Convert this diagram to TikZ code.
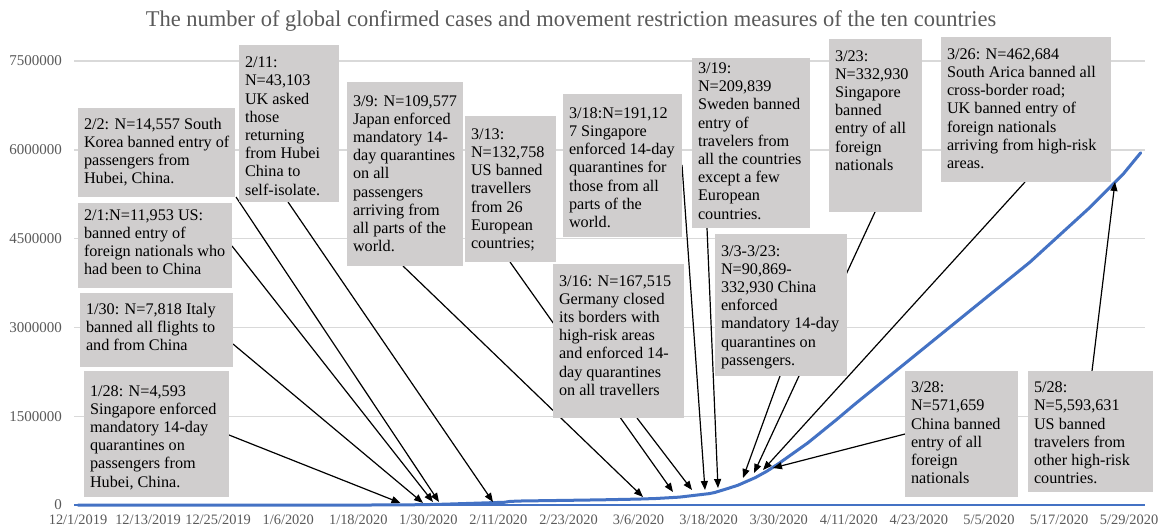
\documentclass[tikz,border=0pt]{standalone}
\usepackage{fontspec}
\setmainfont{Liberation Serif}
\usetikzlibrary{arrows.meta,calc}
\definecolor{boxgray}{RGB}{208,206,206}
\definecolor{labgray}{RGB}{89,89,89}
\definecolor{gridgray}{RGB}{217,217,217}
\definecolor{serieblue}{RGB}{68,114,196}
\tikzset{
  cbox/.style={fill=boxgray, draw=none, anchor=north west, inner sep=0pt, outer sep=0pt},
  ctext/.style={anchor=north west, inner sep=0pt, outer sep=0pt, align=left, text=black,
    font=\fontsize{16.2}{18.2}\selectfont},
  arr/.style={draw=black, line width=1.2pt, -{Triangle[length=9pt,width=7pt]}},
  gridln/.style={draw=gridgray, line width=1.4pt},
  axisln/.style={draw=serieblue, line width=2.6pt},
  dataln/.style={draw=serieblue, line width=3pt, line join=round, line cap=round},
  ylab/.style={anchor=east, inner sep=0pt, text=labgray, font=\fontsize{15}{17}\selectfont},
  xlab/.style={anchor=base, inner sep=0pt, text=labgray, font=\fontsize{14.4}{17}\selectfont},
  ttl/.style={anchor=base, inner sep=0pt, text=labgray, font=\fontsize{22.5}{26}\selectfont}
}
\newcommand\callout[7]{%
  \node[cbox, minimum width={#4-#2}, minimum height={#5-#3}] (#1) at (#2,#3) {};
  \node[ctext] (#1t) at ({#2+6},{#6-12.74}) {\strut #7};
}
\begin{document}
\begin{tikzpicture}[x=1pt, y=-1pt]
\useasboundingbox (0,0) rectangle (1161,527);
\fill[white] (0,0) rectangle (1161,527);

% title
\node[ttl] (title) at (571,26.7) {The number of global confirmed cases and movement restriction measures of the ten countries};

% grid and y labels
\foreach \v/\lab/\n in {61/7500000/a, 149.8/6000000/b, 238.6/4500000/c, 327.4/3000000/d, 416.2/1500000/e}{
  \draw[gridln] (74,\v) -- (1145,\v);
  \node[ylab] (y\n) at (62,\v) {\lab};
}
\node[ylab] (yz) at (62,505) {0};
\draw[axisln] (74,505) -- (1145,505);

% x labels
\foreach \lab [count=\k from 0] in {12/1/2019,12/13/2019,12/25/2019,1/6/2020,1/18/2020,1/30/2020,2/11/2020,2/23/2020,3/6/2020,3/18/2020,3/30/2020,4/11/2020,4/23/2020,5/5/2020,5/17/2020,5/29/2020}{
  \node[xlab] (x\k) at ({78+70.07*\k},524.5) {\lab};
}

% data curve
\begin{scope}[shift={(78,505)}, x=5.839pt, y=59.2pt]
\draw[dataln] plot coordinates {(0,0) (50,0) (55,0.002) (58,0.0046) (60,0.0078) (62,0.012) (63,0.0146) (66,0.024) (72,0.043) (73,0.046) (74,0.061) (76,0.068) (84,0.079) (90,0.088) (96,0.100) (99,0.110) (103,0.133) (106,0.168) (108,0.191) (109,0.210) (111,0.27) (113,0.333) (116,0.463) (118,0.572) (120,0.70) (125,1.05) (130,1.45) (133,1.70) (138,2.10) (143,2.50) (148,2.90) (153,3.30) (158,3.70) (163,4.10) (168,4.55) (173,5.00) (179,5.59) (182,5.95)};
\end{scope}

% arrow endpoints
\coordinate (sA) at (236,197);  \coordinate (tA) at (439,502);
\coordinate (sB) at (232,246);  \coordinate (tB) at (433,502);
\coordinate (sC) at (233,344);  \coordinate (tC) at (423,503);
\coordinate (sD) at (229,435);  \coordinate (tD) at (400.5,503);
\coordinate (sE) at (288,202);  \coordinate (tE) at (493,502);
\coordinate (sF) at (403,266);  \coordinate (tF) at (643,497);
\coordinate (sG) at (510,262);  \coordinate (tG) at (673,492);
\coordinate (sH) at (682,165);  \coordinate (tH) at (705,490);
\coordinate (sI) at (707,228);  \coordinate (tI) at (718,488);
\coordinate (sJ) at (875,212);  \coordinate (tJ) at (754,473);
\coordinate (sK) at (1025,182); \coordinate (tK) at (763,470);
\coordinate (sL) at (637,418);  \coordinate (tL) at (692,490);
\coordinate (sM) at (780,376);  \coordinate (tM) at (743,478);
\coordinate (sN) at (905,434);  \coordinate (tN) at (773,468);
\coordinate (sO) at (1092,371); \coordinate (tO) at (1115,182);
\foreach \c in {A,B,C,D,E,F,G,H,I,J,K,L,M,N,O}{
  \draw[arr] (s\c) -- (t\c);
}

% callout boxes
\callout{bA}{78}{108}{235}{197}{129.3}{2/2: N=14,557 South\\Korea banned entry of\\passengers from\\Hubei, China.}
\callout{bB}{78}{203}{232}{288}{220}{2/1:N=11,953 US:\\banned entry of\\foreign nationals who\\had been to China}
\callout{bC}{80}{293}{233}{367}{314.3}{1/30: N=7,818 Italy\\banned all flights to\\and from China}
\callout{bD}{84}{371}{229}{497}{396}{1/28: N=4,593\\Singapore enforced\\mandatory 14-day\\quarantines on\\passengers from\\Hubei, China.}
\callout{bE}{239}{45}{339}{202}{67.7}{2/11:\\N=43,103\\UK asked\\those\\returning\\from Hubei\\China to\\self-isolate.}
\callout{bF}{347}{82}{463}{266}{106}{3/9: N=109,577\\Japan enforced\\mandatory 14-\\day quarantines\\on all\\passengers\\arriving from\\all parts of the\\world.}
\callout{bG}{465}{116}{556}{262}{139.3}{3/13:\\N=132,758\\US banned\\travellers\\from 26\\European\\countries;}
\callout{bH}{563}{94}{682}{237}{118.3}{3/18:N=191,12\\7 Singapore\\enforced 14-day\\quarantines for\\those from all\\parts of the\\world.}
\callout{bI}{692}{58}{810}{228}{73.5}{3/19:\\N=209,839\\Sweden banned\\entry of\\travelers from\\all the countries\\except a few\\European\\countries.}
\callout{bJ}{829}{39}{922}{212}{61}{3/23:\\N=332,930\\Singapore\\banned\\entry of all\\foreign\\nationals}
\callout{bK}{941}{37}{1111}{182}{59.3}{3/26: N=462,684\\South Arica banned all\\cross-border road;\\UK banned entry of\\foreign nationals\\arriving from high-risk\\areas.}
\callout{bL}{553}{264}{684}{418}{286}{3/16: N=167,515\\Germany closed\\its borders with\\high-risk areas\\and enforced 14-\\day quarantines\\on all travellers}
\callout{bM}{715}{234}{847}{376}{256}{3/3-3/23:\\N=90,869-\\332,930 China\\enforced\\mandatory 14-day\\quarantines on\\passengers.}
\callout{bN}{905}{371}{1018}{497}{392.7}{3/28:\\N=571,659\\China banned\\entry of all\\foreign\\nationals}
\callout{bO}{1028}{371}{1153}{492}{392.7}{5/28:\\N=5,593,631\\US banned\\travelers from\\other high-risk\\countries.}
\end{tikzpicture}
\end{document}
